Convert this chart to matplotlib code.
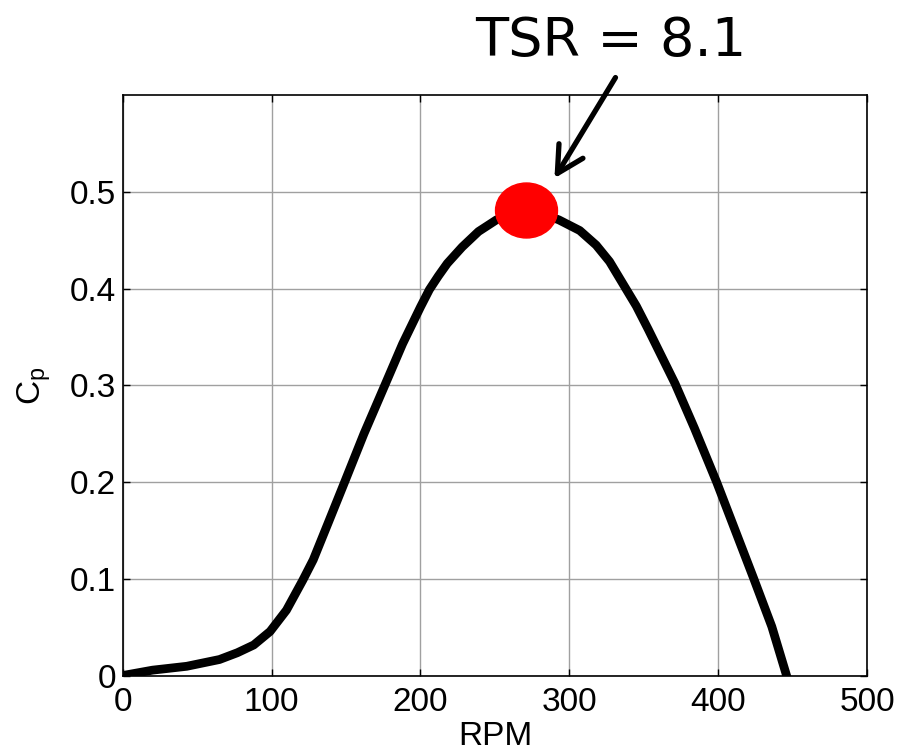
import numpy as np
import matplotlib
matplotlib.use('Agg')
import matplotlib.pyplot as plt
from matplotlib.path import Path
from matplotlib.transforms import Affine2D

plt.rcParams['font.family'] = ['Liberation Sans', 'DejaVu Sans']
plt.rcParams['mathtext.default'] = 'regular'

# power coefficient curve vs rotor speed
rpm = [2, 20, 43, 65, 77, 88, 99, 110, 121, 128, 138, 149, 162, 176, 188,
       200, 206, 212, 218, 228, 239, 251, 261, 271, 281, 293, 307, 318,
       327, 336, 345, 353, 362, 371, 384, 399, 412, 424, 436, 446]
cp = [0.001, 0.006, 0.010, 0.017, 0.024, 0.032, 0.046, 0.068, 0.099, 0.120,
      0.158, 0.200, 0.250, 0.300, 0.343, 0.381, 0.399, 0.413, 0.426, 0.443,
      0.459, 0.471, 0.477, 0.480, 0.478, 0.471, 0.460, 0.445, 0.428, 0.405,
      0.382, 0.358, 0.330, 0.302, 0.256, 0.200, 0.148, 0.100, 0.051, 0.000]

# optimum operating point
opt_rpm = 271
opt_cp = 0.481
opt_label = 'TSR = 8.1'

xticks = [0, 100, 200, 300, 400, 500]
yticks = [0, 0.1, 0.2, 0.3, 0.4, 0.5]

fig = plt.figure(figsize=(8.99, 7.52), dpi=100)
ax = fig.add_axes([0.1365, 0.1011, 0.828, 0.7726])

ax.plot(rpm, cp, color='black', lw=6.3, solid_joinstyle='round', zorder=3)

# slightly flattened dot for the optimum
ell = Path.unit_circle().transformed(Affine2D().scale(1.0, 55 / 62))
ax.plot([opt_rpm], [opt_cp], marker=ell, ms=44.6, color='red', mec='red',
        ls='none', zorder=4, clip_on=False)

ax.annotate('', xy=(290, 0.514), xytext=(331, 0.618),
            arrowprops=dict(arrowstyle='->,head_length=0.45,head_width=0.24',
                            lw=3.8, color='black', mutation_scale=42,
                            shrinkA=0, shrinkB=0),
            annotation_clip=False)
ax.text(328, 0.640, opt_label, ha='center', va='baseline', fontsize=39,
        family='DejaVu Sans', clip_on=False)

ax.set_xlim(0, 500)
ax.set_ylim(0, 0.6)
ax.set_xticks(xticks)
ax.set_yticks(yticks)
ax.set_xticklabels([str(v) for v in xticks])
ax.set_yticklabels(['0', '0.1', '0.2', '0.3', '0.4', '0.5'])
ax.grid(True, color='#a0a0a0', lw=1.0)
ax.set_axisbelow(True)
ax.tick_params(direction='in', length=5, width=1, top=True, right=True,
               labelsize=24)
ax.tick_params(axis='x', pad=8)
ax.tick_params(axis='y', pad=5)
for sp in ax.spines.values():
    sp.set_linewidth(1.2)

ax.set_xlabel('RPM', fontsize=24, labelpad=2)
ax.set_ylabel('$C_p$', fontsize=24, labelpad=12)

fig.savefig('out.png', dpi=100)
